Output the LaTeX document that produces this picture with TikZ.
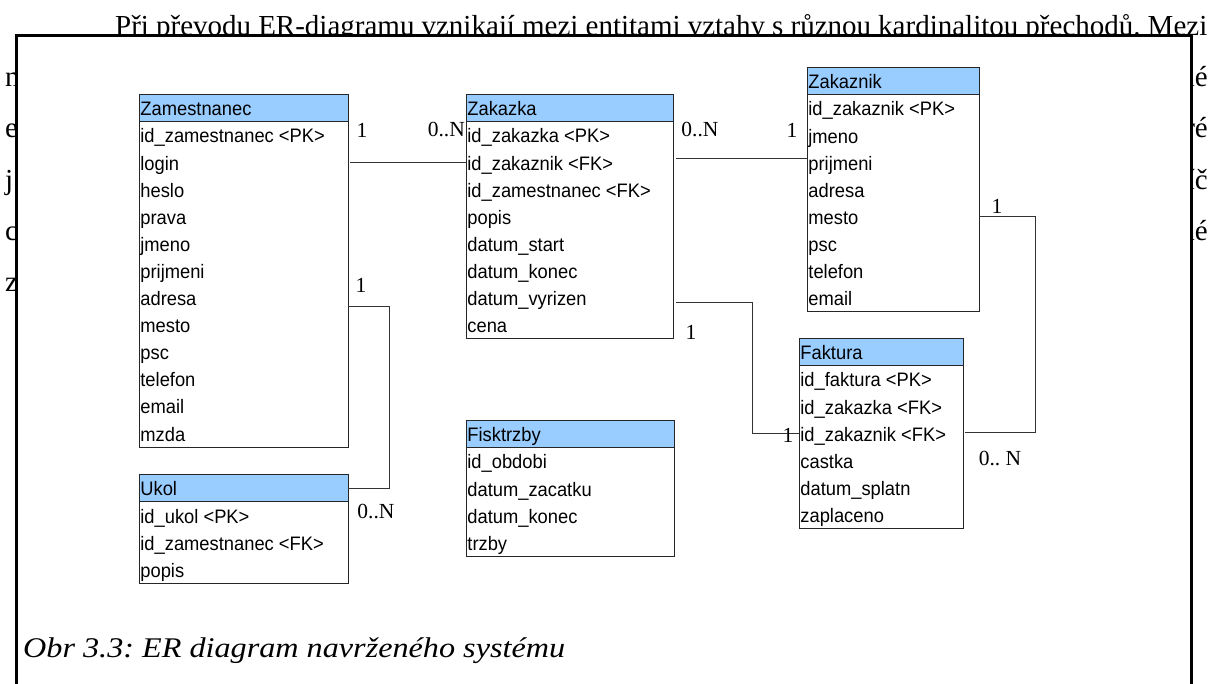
\documentclass[tikz,border=0pt]{standalone}
\usepackage{fontspec}
\setmainfont{Liberation Serif}
\newfontfamily\ersans[FakeStretch=0.94]{Liberation Sans}
\newfontfamily\capfont[FakeStretch=1.13]{Liberation Serif}
\usetikzlibrary{calc}
\definecolor{hdrblue}{HTML}{99CCFF}
\definecolor{lineg}{HTML}{333333}
\frenchspacing
\tikzset{
  ebox/.style={draw=black!85, fill=white, line width=1pt, inner sep=0pt, outer sep=0pt},
  hdr/.style={draw=black!85, fill=hdrblue, line width=1pt, inner sep=0pt, outer sep=0pt},
  etxt/.style={font=\ersans\fontsize{19.5}{22}\selectfont, inner sep=0pt, anchor=base west},
  conn/.style={draw=lineg, line width=1pt},
  card/.style={font=\fontsize{21.5}{24}\selectfont, inner sep=0pt},
  bgtxt/.style={font=\fontsize{29}{32}\selectfont, inner sep=0pt},
}
\newcommand{\erentity}[7]{%
  \node[ebox, anchor=north west, minimum width=#4pt, minimum height={(27+27.1*#5)*1pt}] (#1) at (#2,#3) {};
  \node[hdr, anchor=north west, minimum width=#4pt, minimum height=27pt] (#1-h) at (#2,#3) {};
  \node[etxt] (#1-t) at ({#2+1.2},{#3+21}) {#6};
  \foreach \r [count=\i] in {#7} {
    \coordinate (#1-r\i) at (#2,{#3+27+27.1*(\i-0.5)});
    \node[etxt] (#1-\i) at ({#2+1.2},{#3+27+27.1*(\i-1)+21}) {\r};
  }
}
\begin{document}
\begin{tikzpicture}[x=1pt,y=-1pt]
\useasboundingbox (0,0) rectangle (1211,684);
\clip (0,0) rectangle (1211,684);
\fill[white] (0,0) rectangle (1211,684);
% background page text, partly covered by the frame
\node[bgtxt, anchor=base west] (t0) at (115,36) {\hbox to 1092pt{Při převodu ER-diagramu vznikají mezi entitami vztahy s různou kardinalitou přechodů. Mezi}};
\node[bgtxt, anchor=base west] (tl1) at (5,87) {n};
\node[bgtxt, anchor=base west] (tl2) at (5,138) {e};
\node[bgtxt, anchor=base west] (tl3) at (5,190) {j};
\node[bgtxt, anchor=base west] (tl4) at (5,241) {c};
\node[bgtxt, anchor=base west] (tl5) at (5,292) {z};
\node[bgtxt, anchor=base east] (tr1) at (1208,87) {né};
\node[bgtxt, anchor=base east] (tr2) at (1208,138) {ré};
\node[bgtxt, anchor=base east] (tr3) at (1208,190) {íč};
\node[bgtxt, anchor=base east] (tr4) at (1208,241) {né};
% frame
\fill[white] (16,36) rectangle (1191,700);
\draw[line width=3pt] (16,700) -- (16,36) -- (1191,36) -- (1191,700);
% entities
\erentity{zam}{139}{95}{209}{12}{Zamestnanec}{id\_zamestnanec <PK>, login, heslo, prava, jmeno, prijmeni, adresa, mesto, psc, telefon, email, mzda}
\erentity{ukol}{139}{475}{209}{3}{Ukol}{id\_ukol <PK>, id\_zamestnanec <FK>, popis}
\erentity{zak}{466}{95}{207}{8}{Zakazka}{id\_zakazka <PK>, id\_zakaznik <FK>, id\_zamestnanec <FK>, popis, datum\_start, datum\_konec, datum\_vyrizen, cena}
\erentity{zakn}{807}{68}{172}{8}{Zakaznik}{id\_zakaznik <PK>, jmeno, prijmeni, adresa, mesto, psc, telefon, email}
\erentity{fak}{799}{339}{164}{6}{Faktura}{id\_faktura <PK>, id\_zakazka <FK>, id\_zakaznik <FK>, castka, datum\_splatn, zaplaceno}
\erentity{fisk}{466}{421}{208}{4}{Fisktrzby}{id\_obdobi, datum\_zacatku, datum\_konec, trzby}
% connectors
\coordinate (k2) at (0,159);
\coordinate (k3) at (389,307);
\coordinate (k4) at (752,303);
\coordinate (k5) at (1035,433);
\draw[conn] ([xshift=2pt]zam-r2 -| zam.east) -- (zam-r2 -| zak.west);
\draw[conn] ([xshift=3pt]k2 -| zak.east) -- (k2 -| zakn.west);
\draw[conn] (k3 -| zam.east) -- (k3) |- (ukol-h.east);
\draw[conn] ([xshift=3pt]k4 -| zak.east) -- (k4) |- (fak-r3 -| fak.west);
\draw[conn] (zakn-r5 -| zakn.east) -| (k5) -- ([xshift=2pt]k5 -| fak.east);
% cardinalities
\node[card] (l1) at (362,130) {1};
\node[card, anchor=east] (l2) at (465,130) {0..N};
\node[card] (l3) at (700,130) {0..N};
\node[card] (l4) at (792,130) {1};
\node[card] (l5) at (361,285) {1};
\node[card] (l6) at (376,512) {0..N};
\node[card] (l7) at (691,332) {1};
\node[card] (l8) at (788,435) {1};
\node[card] (l9) at (997,206) {1};
\node[card] (l10) at (1000,459) {0.. N};
% caption
\node[anchor=base west, inner sep=0pt, font=\capfont\itshape\fontsize{28.5}{32}\selectfont] (cap) at (23,657) {Obr 3.3: ER diagram navrženého systému};
\end{tikzpicture}
\end{document}
